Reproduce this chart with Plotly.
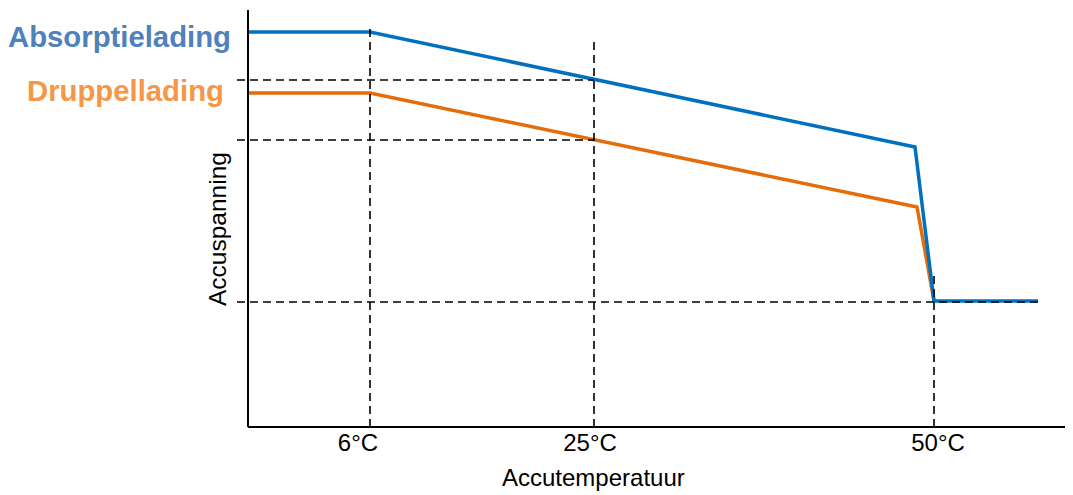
import plotly.graph_objects as go

# Schematic charge-voltage curve (axis units are schematic, no real scale)
absorptie_x = [0, 122, 667, 686, 790]
absorptie_y = [395, 395, 280, 126, 126]
druppel_x = [0, 122, 669, 686]
druppel_y = [334, 334, 220, 126]

# Tick labels on the temperature axis
tick_pos = [110, 342, 690]
tick_text = ["6°C", "25°C", "50°C"]

# Dashed guide lines
vguide_x = [122, 346, 686]
vguide_top = [400, 385, 152]
hguide_y = [347, 287, 125]
hguide_end = [346, 346, 790]
hguide_start = -11

FONT = "Arial, Liberation Sans, sans-serif"
BLUE = "#0070C0"
ORANGE = "#E46C0A"

# plot area in page pixels: x 237..1073, y 10..430 (page has an 8px body margin)
def px(xp):
    return (xp - 237) / 836.0

def py(yp):
    return (430 - yp) / 420.0

fig = go.Figure()

fig.add_trace(go.Scatter(x=druppel_x, y=druppel_y, mode="lines",
                         line=dict(color=ORANGE, width=3.5), hoverinfo="skip"))
fig.add_trace(go.Scatter(x=absorptie_x, y=absorptie_y, mode="lines",
                         line=dict(color=BLUE, width=3.5), hoverinfo="skip"))

for x, top in zip(vguide_x, vguide_top):
    fig.add_trace(go.Scatter(x=[x, x], y=[0, top], mode="lines",
                             line=dict(color="black", width=1.6, dash="8px,5px"),
                             hoverinfo="skip"))
for y, end in zip(hguide_y, hguide_end):
    fig.add_trace(go.Scatter(x=[hguide_start, end], y=[y, y], mode="lines",
                             line=dict(color="black", width=1.6, dash="8px,5px"),
                             hoverinfo="skip"))

# Axis lines
fig.add_shape(type="line", x0=0, x1=0, y0=0, y1=417, xref="x", yref="y",
              line=dict(color="black", width=2))
fig.add_shape(type="line", x0=0, x1=825, y0=0, y1=0, xref="x", yref="y",
              line=dict(color="black", width=2))

# Series labels
fig.add_annotation(x=px(233), y=py(37), xref="paper", yref="paper",
                   text="<b>Absorptielading</b>",
                   showarrow=False, xanchor="right", yanchor="middle",
                   font=dict(family=FONT, size=29.3, color="#4F81BD"))
fig.add_annotation(x=px(226), y=py(90), xref="paper", yref="paper",
                   text="<b>Druppellading</b>",
                   showarrow=False, xanchor="right", yanchor="middle",
                   font=dict(family=FONT, size=29.3, color="#F79646"))

# Axis titles
fig.add_annotation(x=px(218), y=py(229), xref="paper", yref="paper", text="Accuspanning",
                   textangle=-90, showarrow=False, xanchor="center", yanchor="middle",
                   font=dict(family=FONT, size=24.5, color="black"))
fig.add_annotation(x=px(593), y=py(477), xref="paper", yref="paper", text="Accutemperatuur",
                   showarrow=False, xanchor="center", yanchor="middle",
                   font=dict(family=FONT, size=24, color="black"))

fig.update_layout(
    width=1065, height=487,
    margin=dict(l=229, r=0, t=2, b=65),
    paper_bgcolor="white", plot_bgcolor="white",
    showlegend=False,
    xaxis=dict(range=[-11, 825], showgrid=False, zeroline=False, showline=False,
               tickmode="array", tickvals=tick_pos, ticktext=tick_text, ticks="",
               ticklabelstandoff=-4,
               tickfont=dict(family=FONT, size=24, color="black")),
    yaxis=dict(range=[-3, 417], showgrid=False, zeroline=False, showline=False,
               showticklabels=False, ticks=""),
)

fig.write_html("out.html", config={"displayModeBar": False})
